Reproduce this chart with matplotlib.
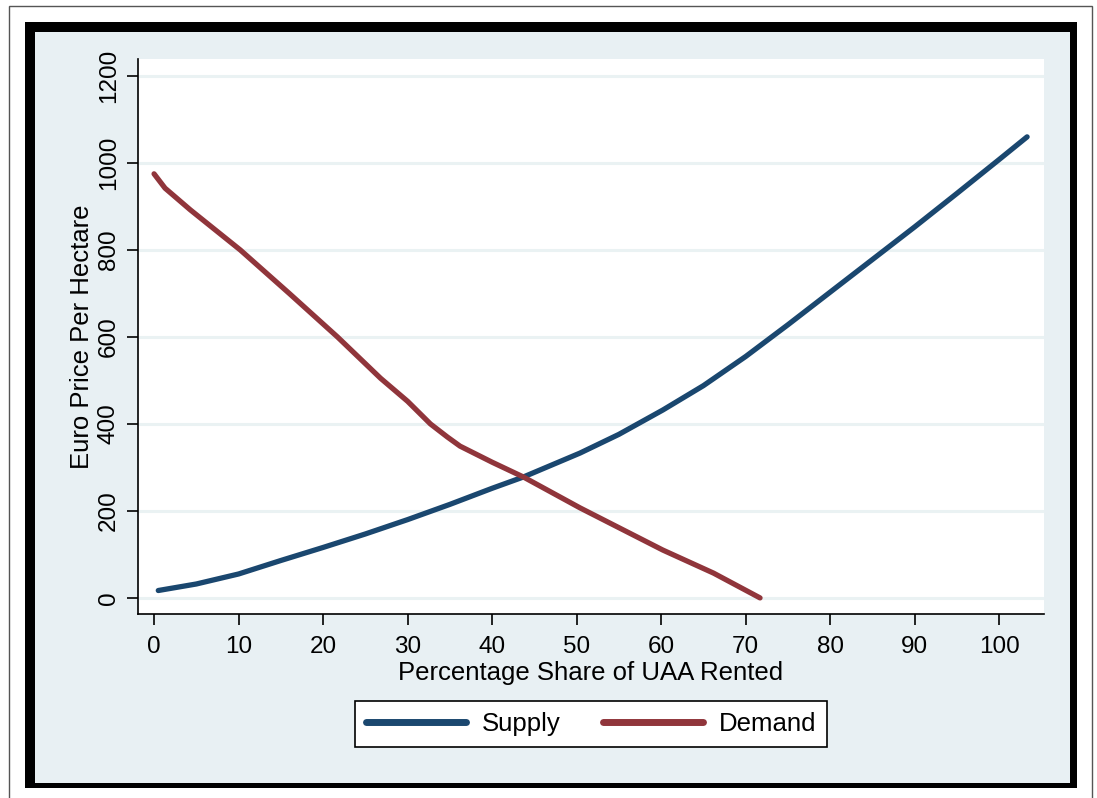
import matplotlib
matplotlib.use("Agg")

import matplotlib.pyplot as plt
from matplotlib.patches import Rectangle


# values
supply_x = [0.5, 5, 10, 15, 20, 25, 30, 35, 40, 43.7, 50.4, 55, 60.2, 65,
            70, 75, 80, 85, 90, 95, 100, 103.3]
supply_y = [17, 32, 55, 86, 116, 147, 180, 215, 252, 278, 333, 376, 432, 488,
            555, 628, 703, 778, 853, 930, 1008, 1060]

demand_x = [0, 1.3, 4.3, 10.2, 16, 21.7, 26.8, 30, 32.7, 34.7, 36.2, 40, 43.7,
            50.4, 60.2, 66.2, 71.7]
demand_y = [975, 942, 892, 800, 700, 600, 505, 452, 400, 370, 349, 312, 278,
            207, 110, 57, 0]

x_ticks = [0, 10, 20, 30, 40, 50, 60, 70, 80, 90, 100]
y_ticks = [0, 200, 400, 600, 800, 1000, 1200]

NAVY = "#1a476f"
MAROON = "#90353b"
BG = "#e8f0f3"

W, H = 1097, 798

plt.rcParams["font.family"] = ["Liberation Sans", "DejaVu Sans"]

fig = plt.figure(figsize=(W / 100, H / 100), dpi=100)
fig.patch.set_facecolor("white")


def px_rect(x0, y0, x1, y1, **kw):
    # rectangle given in image pixels (origin top-left)
    return Rectangle(
        (x0 / W, 1 - y1 / H),
        (x1 - x0) / W,
        (y1 - y0) / H,
        transform=fig.transFigure,
        **kw
    )


fig.patches.append(px_rect(9, 6, 1092, 805, facecolor="white", edgecolor="#555555", linewidth=1, zorder=-30))
fig.patches.append(px_rect(25, 22, 1077, 788, facecolor="black", edgecolor="none", zorder=-20))
fig.patches.append(px_rect(35, 32, 1070, 783, facecolor=BG, edgecolor="none", zorder=-10))

ax = fig.add_axes([138 / W, 1 - 614 / H, (1044 - 138) / W, (614 - 59) / H])
ax.set_zorder(5)
ax.set_facecolor("white")

ax.plot(supply_x, supply_y, color=NAVY, linewidth=3.8, solid_capstyle="round",
        solid_joinstyle="round", label="Supply")
ax.plot(demand_x, demand_y, color=MAROON, linewidth=3.8, solid_capstyle="round",
        solid_joinstyle="round", label="Demand")

ax.set_xlim(-1.9, 105.3)
ax.set_ylim(-37, 1239)

ax.set_xticks(x_ticks)
ax.set_yticks(y_ticks)
ax.set_yticklabels([str(v) for v in y_ticks], rotation=90, va="center")

ax.grid(axis="y", color="#eaf2f3", linewidth=2.2)
ax.set_axisbelow(True)

for side in ["top", "right"]:
    ax.spines[side].set_visible(False)
for side in ["left", "bottom"]:
    ax.spines[side].set_linewidth(1.2)

ax.tick_params(axis="both", direction="out", length=8, width=1.2, labelsize=17.5)
ax.tick_params(axis="x", pad=8)
ax.tick_params(axis="y", pad=5)

ax.set_xlabel("Percentage Share of UAA Rented", fontsize=18.5, labelpad=2)
ax.set_ylabel("Euro Price Per Hectare", fontsize=18.5, labelpad=3)

leg = fig.legend(
    loc="center",
    bbox_to_anchor=(591 / W, 1 - 724 / H),
    ncol=2,
    fontsize=18.5,
    frameon=True,
    fancybox=False,
    framealpha=1,
    facecolor="white",
    edgecolor="black",
    handlelength=3.9,
    handletextpad=0.62,
    columnspacing=1.65,
    borderpad=0.42,
)
leg.get_frame().set_linewidth(1.2)
for line in leg.get_lines():
    line.set_linewidth(5)

fig.savefig("out.png", dpi=100, facecolor=fig.get_facecolor())
